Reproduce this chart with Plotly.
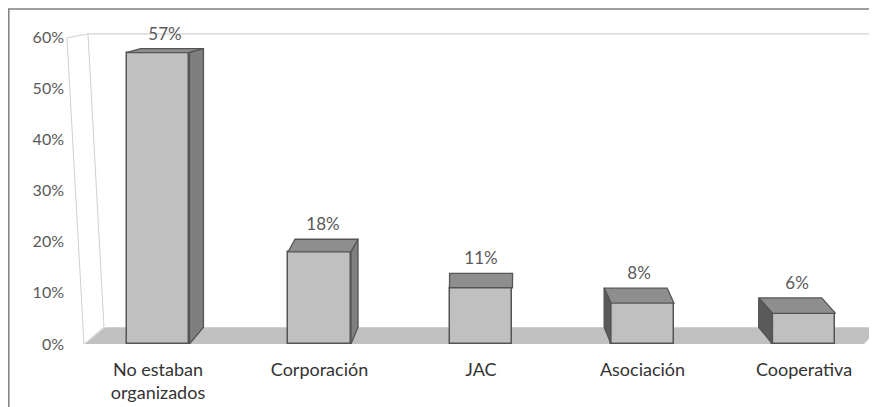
import plotly.graph_objects as go

# ---------------- data ----------------
categories = ["No estaban<br>organizados", "Corporación", "JAC", "Asociación", "Cooperativa"]
values = [0.57, 0.18, 0.11, 0.08, 0.06]
value_labels = ["57%", "18%", "11%", "8%", "6%"]
y_tick_vals = [0, 0.1, 0.2, 0.3, 0.4, 0.5, 0.6]
y_tick_text = ["0%", "10%", "20%", "30%", "40%", "50%", "60%"]

# ---------------- layout constants ----------------
OFF = 8                          # page body margin offset of the plot div
W, H = 877, 407                  # figure size
ML, MT = 85 - OFF, 27 - OFF
PLOT_BOTTOM = 348 - OFF
PLOT_RIGHT = 866 - OFF
MR, MB = W - PLOT_RIGHT, H - PLOT_BOTTOM
X_RANGE = [-0.452, 4.384]
Y_RANGE = [0, 0.62]
PW, PH = W - ML - MR, H - MT - MB
KX = PW / (X_RANGE[1] - X_RANGE[0])   # px per x unit
KY = PH / (Y_RANGE[1] - Y_RANGE[0])   # px per y unit
BAR_W = 0.39
FONT = "Lato"
EDGE = "#555555"
FRONT = "#C0C0C0"
TOP = "#8E8E8E"
RSIDE = "#7F7F7F"
LSIDE = "#5A5A5A"


def depth_px(v):
    # vertical perspective depth (pixels) at height v
    return 17 - 23 * v


def dx_px(xc):
    xpx = ML + OFF + (xc - X_RANGE[0]) * KX   # screen px
    return -0.043 * (xpx - 483)


def px2paper(px, py):
    # screen px -> paper coords
    return (px - OFF - ML) / PW, (H - MB - (py - OFF)) / PH


def path_px(points):
    pts = [px2paper(*p) for p in points]
    return "M " + " L ".join(f"{x:.5f},{y:.5f}" for x, y in pts) + " Z"


xs = list(range(len(categories)))

fig = go.Figure()

# front faces
fig.add_trace(go.Bar(
    x=xs, y=values, width=BAR_W,
    marker=dict(color=FRONT, line=dict(color=EDGE, width=1.5)),
    hoverinfo="skip", showlegend=False,
))

# top and side faces
for i, v in zip(xs, values):
    dx = dx_px(i) / KX
    dyt = depth_px(v) / KY
    dyb = depth_px(0) / KY
    xl, xr = i - BAR_W / 2, i + BAR_W / 2
    fig.add_trace(go.Scatter(
        x=[xl, xr, xr + dx, xl + dx, xl],
        y=[v, v, v + dyt, v + dyt, v],
        mode="lines", fill="toself", fillcolor=TOP,
        line=dict(color=EDGE, width=1.3),
        hoverinfo="skip", showlegend=False,
    ))
    if abs(dx_px(i)) > 1.5:
        xe = xr if dx > 0 else xl
        fig.add_trace(go.Scatter(
            x=[xe, xe + dx, xe + dx, xe, xe],
            y=[0, dyb, v + dyt, v, 0],
            mode="lines", fill="toself",
            fillcolor=RSIDE if dx > 0 else LSIDE,
            line=dict(color=EDGE, width=1.3),
            hoverinfo="skip", showlegend=False,
        ))

# value labels
fig.add_trace(go.Scatter(
    x=[i + dx_px(i) / KX / 2 for i in xs],
    y=[v + depth_px(v) / KY + 5 / KY for v in values],
    mode="text", text=value_labels, textposition="top center",
    textfont=dict(family=FONT, size=17, color="#595959"),
    cliponaxis=False, hoverinfo="skip", showlegend=False,
))

shapes = [
    # floor
    dict(type="path", xref="paper", yref="paper", layer="below",
         path=path_px([(85, 348), (105, 331), (880, 331), (864, 348)]),
         fillcolor="#C0C0C0", line=dict(width=0)),
    # left wall
    dict(type="path", xref="paper", yref="paper", layer="below",
         path=path_px([(84, 348), (67, 38), (88, 34), (104, 331)]),
         fillcolor="rgba(0,0,0,0)", line=dict(color="#D0D0D0", width=1)),
    # back wall top edge
    dict(type="line", xref="paper", yref="paper", layer="below",
         x0=px2paper(88, 34)[0], y0=px2paper(88, 34)[1],
         x1=px2paper(880, 34)[0], y1=px2paper(880, 34)[1],
         line=dict(color="#C8C8C8", width=1)),
    # right wall edge
    dict(type="line", xref="paper", yref="paper", layer="below",
         x0=px2paper(875.5, 55)[0], y0=px2paper(875.5, 55)[1],
         x1=px2paper(875.5, 331)[0], y1=px2paper(875.5, 331)[1],
         line=dict(color="#D0D0D0", width=1)),
    # chart border (left and top sides visible)
    dict(type="rect", xref="paper", yref="paper", layer="above",
         x0=px2paper(8.8, 8.8)[0], y0=px2paper(8.8, 8.8)[1],
         x1=px2paper(890, 420)[0], y1=px2paper(890, 420)[1],
         fillcolor="rgba(0,0,0,0)", line=dict(color="#7F7F7F", width=1.5)),
]

fig.update_layout(
    width=W, height=H,
    margin=dict(l=ML, r=MR, t=MT, b=MB, pad=0),
    paper_bgcolor="white", plot_bgcolor="rgba(0,0,0,0)",
    font=dict(family=FONT, size=16, color="#595959"),
    shapes=shapes,
    xaxis=dict(
        range=X_RANGE, tickmode="array", tickvals=xs, ticktext=categories,
        showgrid=False, zeroline=False, showline=False, ticks="",
        ticklabelstandoff=13,
        tickfont=dict(family=FONT, size=18, color="#333333"),
        fixedrange=True,
    ),
    yaxis=dict(
        range=Y_RANGE, tickmode="array", tickvals=y_tick_vals, ticktext=y_tick_text,
        showgrid=False, zeroline=False, showline=False, ticks="",
        ticklabelstandoff=20,
        tickfont=dict(family=FONT, size=16, color="#595959"),
        fixedrange=True,
    ),
    bargap=0,
)

fig.write_html("out.html")
